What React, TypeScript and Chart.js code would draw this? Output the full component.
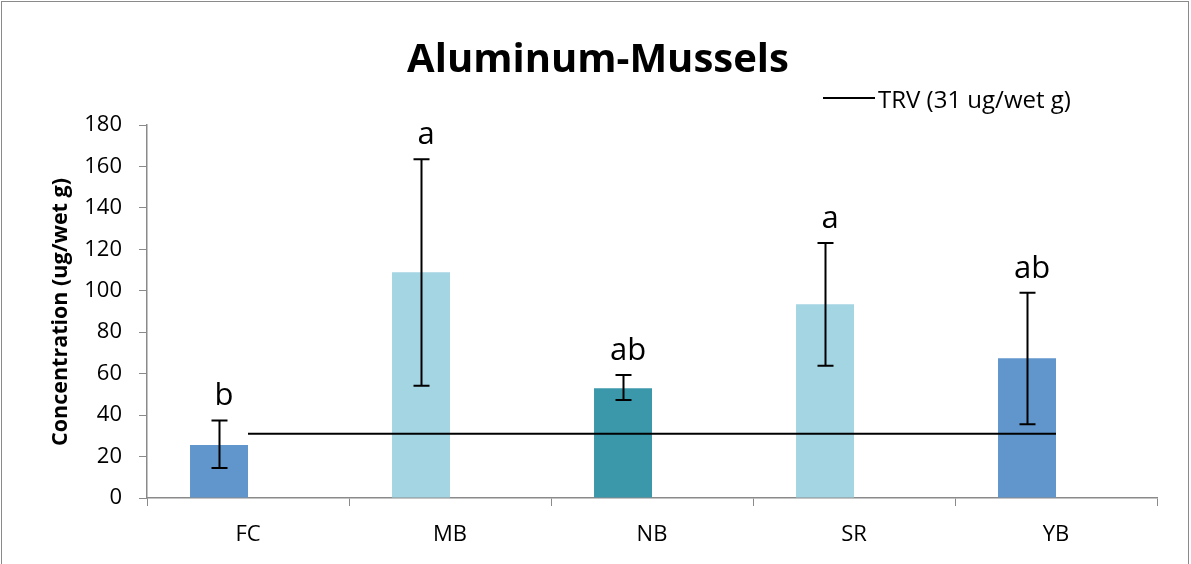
import React, { useEffect, useRef } from "react";
import { Chart, registerables } from "chart.js";

Chart.register(...registerables);

const categories = ["FC", "MB", "NB", "SR", "YB"];
const means = [25.6, 109, 53, 93.5, 67.5];
const errLow = [14.5, 54.2, 47.3, 63.8, 35.6];
const errHigh = [37.4, 163.5, 59.4, 123, 99];
const letters = ["b", "a", "ab", "a", "ab"];
const barColors = ["#6096CB", "#A4D5E3", "#3B98AB", "#A4D5E3", "#6096CB"];
const trvValue = 31;
const trvLine = categories.map(() => trvValue);
const yTicks = [0, 20, 40, 60, 80, 100, 120, 140, 160, 180];

const FONT = "'Open Sans', 'Noto Sans', sans-serif";

const overlayPlugin = {
  id: "overlay",
  afterDatasetsDraw(chart: any) {
    const ctx = chart.ctx;
    const y = chart.scales.y;
    const meta = chart.getDatasetMeta(1);
    ctx.save();
    ctx.strokeStyle = "#000";
    ctx.lineWidth = 2;
    meta.data.forEach((el: any, i: number) => {
      const x = Math.round(el.x) + 0.5;
      const yt = y.getPixelForValue(errHigh[i]);
      const yb = y.getPixelForValue(errLow[i]);
      ctx.beginPath();
      ctx.moveTo(x, yt);
      ctx.lineTo(x, yb);
      ctx.moveTo(x - 8, yt);
      ctx.lineTo(x + 8, yt);
      ctx.moveTo(x - 8, yb);
      ctx.lineTo(x + 8, yb);
      ctx.stroke();
      ctx.fillStyle = "#000";
      ctx.font = `31px ${FONT}`;
      ctx.textAlign = "center";
      ctx.textBaseline = "alphabetic";
      ctx.fillText(letters[i], el.x + 5, yt - 15);
    });
    ctx.restore();
  },
  afterDraw(chart: any) {
    const ctx = chart.ctx;
    ctx.save();
    ctx.fillStyle = "#000";
    ctx.font = `bold 40px ${FONT}`;
    ctx.textAlign = "center";
    ctx.textBaseline = "alphabetic";
    ctx.fillText("Aluminum-Mussels", 598, 72);
    ctx.strokeStyle = "#000";
    ctx.lineWidth = 2;
    ctx.beginPath();
    ctx.moveTo(823, 98);
    ctx.lineTo(875, 98);
    ctx.stroke();
    ctx.font = `24px ${FONT}`;
    ctx.textAlign = "left";
    ctx.textBaseline = "alphabetic";
    ctx.fillText("TRV (31 ug/wet g)", 878, 108);
    ctx.save();
    ctx.translate(61, 312);
    ctx.rotate(-Math.PI / 2);
    ctx.font = `bold 21.5px ${FONT}`;
    ctx.textAlign = "center";
    ctx.textBaseline = "middle";
    ctx.fillText("Concentration (ug/wet g)", 0, 0);
    ctx.restore();
    ctx.strokeStyle = "#8a8a8a";
    ctx.lineWidth = 1;
    ctx.strokeRect(1.5, 1.5, 1187, 600);
    ctx.restore();
  },
};

export default function App() {
  const ref = useRef<HTMLCanvasElement>(null);
  useEffect(() => {
    const chart = new Chart(ref.current as HTMLCanvasElement, {
      type: "bar",
      data: {
        labels: categories,
        datasets: [
          {
            type: "line",
            label: "TRV (31 ug/wet g)",
            data: trvLine,
            borderColor: "#000",
            borderWidth: 2,
            pointRadius: 0,
            fill: false,
            order: 0,
          } as any,
          {
            type: "bar",
            label: "Concentration",
            data: means,
            backgroundColor: barColors,
            borderWidth: 0,
            order: 1,
          },
          {
            type: "bar",
            label: "spacer",
            data: categories.map(() => null),
            backgroundColor: "rgba(0,0,0,0)",
            order: 2,
          },
        ],
      },
      options: {
        responsive: false,
        animation: false,
        events: [],
        layout: { padding: { top: 125, right: 34, left: 0, bottom: 0 } },
        datasets: {
          bar: { barPercentage: 1, categoryPercentage: 0.574 },
        },
        plugins: {
          legend: { display: false },
          title: { display: false },
          tooltip: { enabled: false },
        },
        scales: {
          x: {
            afterFit(scale: any) {
              scale.height = 66;
            },
            grid: {
              display: true,
              offset: true,
              drawOnChartArea: false,
              drawTicks: true,
              tickLength: 8,
              color: "#8a8a8a",
            },
            border: { display: true, color: "#8a8a8a", width: 1.5 },
            ticks: {
              color: "#000",
              font: { family: FONT, size: 22 },
              padding: 16,
            },
          },
          y: {
            min: 0,
            max: 180,
            afterFit(scale: any) {
              scale.width = 147;
            },
            afterBuildTicks(scale: any) {
              scale.ticks = yTicks.map((v) => ({ value: v }));
            },
            grid: {
              display: true,
              drawOnChartArea: false,
              drawTicks: true,
              tickLength: 8,
              color: "#8a8a8a",
            },
            border: { display: true, color: "#8a8a8a", width: 1.5 },
            ticks: {
              color: "#000",
              font: { family: FONT, size: 22 },
              padding: 17,
            },
          },
        },
      },
      plugins: [overlayPlugin],
    });
    return () => chart.destroy();
  }, []);
  return (
    <div style={{ position: "absolute", left: 0, top: 0, width: 1191, height: 564, background: "#fff" }}>
      <canvas ref={ref} width={1191} height={564} />
    </div>
  );
}
